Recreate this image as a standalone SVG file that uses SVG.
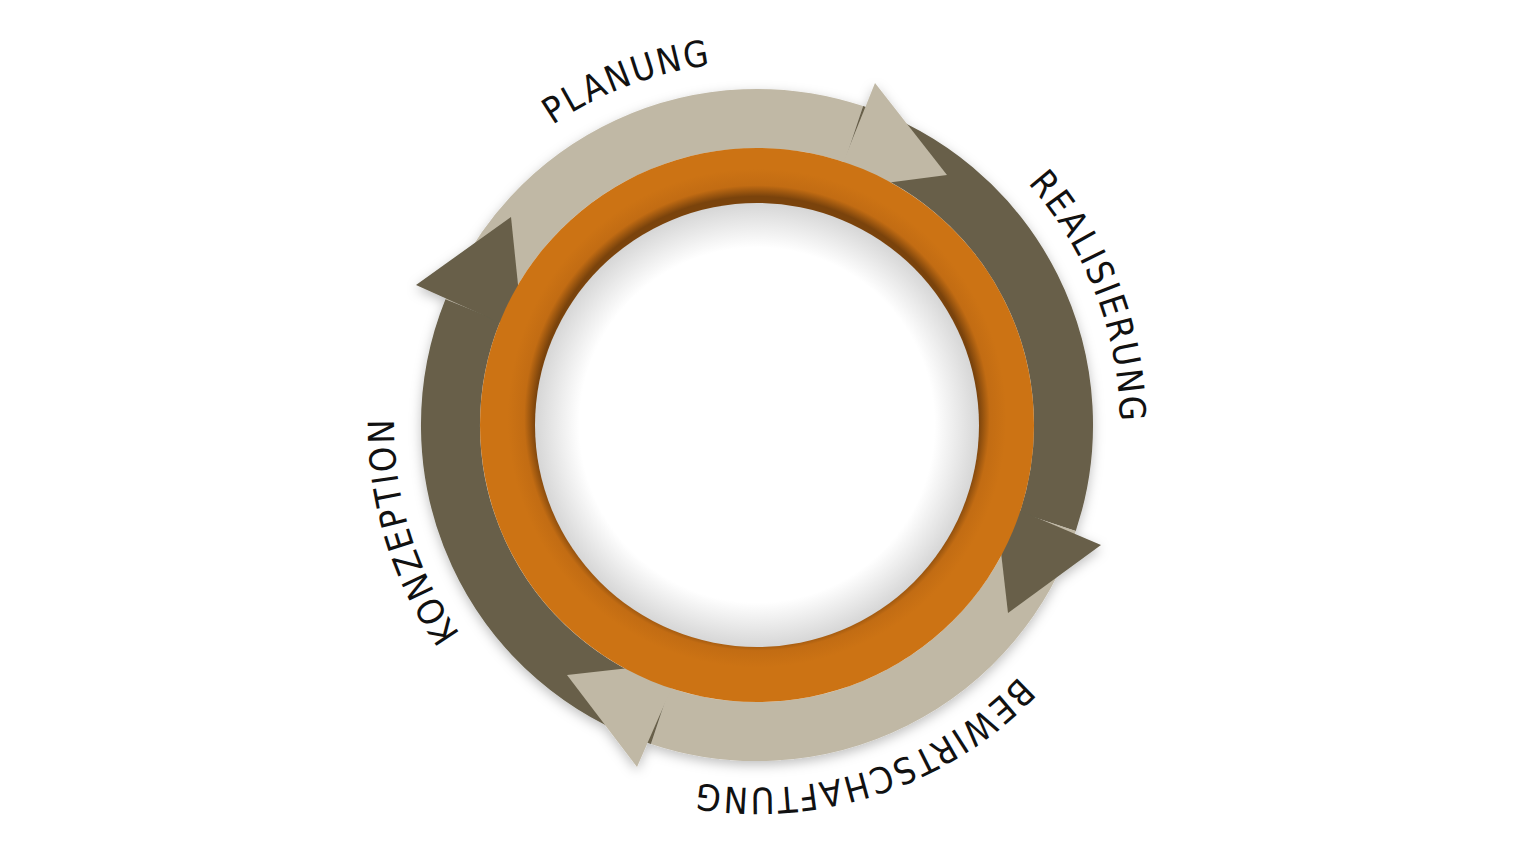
<svg xmlns="http://www.w3.org/2000/svg" xmlns:xlink="http://www.w3.org/1999/xlink" width="1520" height="856" viewBox="0 0 1520 856">
<style>
.lab{font-family:"DejaVu Sans Condensed","Roboto",sans-serif;font-size:36px;fill:#111;letter-spacing:2px}
.light{fill:none;stroke:#c0b8a5;stroke-width:59}
.dark{fill:none;stroke:#675f49;stroke-width:59}
</style>
<defs>
<filter id="sh" x="-20%" y="-20%" width="140%" height="140%"><feDropShadow dx="0" dy="4" stdDeviation="6" flood-color="#000" flood-opacity="0.25"/></filter>
<radialGradient id="wg" cx="757" cy="425" r="222" gradientUnits="userSpaceOnUse">
<stop offset="0.8" stop-color="#fff"/><stop offset="1" stop-color="#d6d6d6"/></radialGradient>
<radialGradient id="og" cx="757" cy="418" r="277" gradientUnits="userSpaceOnUse">
<stop offset="0.8" stop-color="#7a430c"/><stop offset="0.84" stop-color="#c26c13"/><stop offset="0.9" stop-color="#cc7314"/><stop offset="1" stop-color="#cc7314"/></radialGradient>
<path id="tp" d="M394,425 A363,363 0 0 1 1120,425 A363,363 0 0 1 394,425"/>
</defs>
<rect width="1520" height="856" fill="#fff"/>
<g id="ring" filter="url(#sh)">
<path class="light" d="M472.8,310.2 A306.5,306.5 0 0 1 853.8,134.1"/>
<path class="dark" d="M853.8,134.1 A306.5,306.5 0 0 1 1047.8,521.8"/>
<path class="light" d="M1047.8,521.8 A306.5,306.5 0 0 1 660.2,715.9"/>
<path class="dark" d="M660.2,715.9 A306.5,306.5 0 0 1 472.8,310.2"/>
<polygon fill="#c0b8a5" points="875,83 947,175 832,190"/>
<polygon fill="#675f49" points="995,500 1101,545 1008,613"/>
<polygon fill="#c0b8a5" points="683,662 637,767 567,675"/>
<polygon fill="#675f49" points="523,333 416,285 511,217"/>
</g>
<g id="core">
<circle cx="757" cy="425" r="277" fill="url(#og)"/>
<circle cx="757" cy="425" r="222" fill="url(#wg)"/>
</g>
<g id="labels">
<text class="lab" text-anchor="middle"><textPath xlink:href="#tp" startOffset="438.8">PLANUNG</textPath></text>
<text class="lab" text-anchor="middle"><textPath xlink:href="#tp" startOffset="1006.5">REALISIERUNG</textPath></text>
<text class="lab" text-anchor="middle"><textPath xlink:href="#tp" startOffset="1594">BEWIRTSCHAFTUNG</textPath></text>
<text class="lab" text-anchor="middle"><textPath xlink:href="#tp" startOffset="2172">KONZEPTION</textPath></text>
</g>
</svg>
